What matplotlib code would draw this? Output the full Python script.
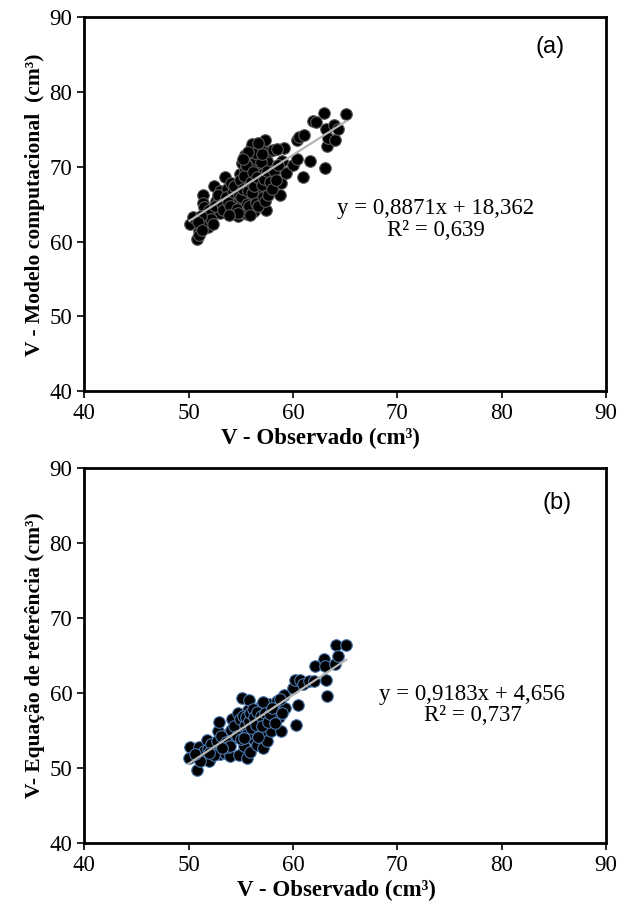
import matplotlib.pyplot as plt
import numpy as np

# %% data
# panel (a): observed vs computational model
obs_a = [50.1, 50.4, 50.8, 51.0, 51.2, 51.4, 51.4, 51.8, 51.9, 52.4, 52.6, 52.9,
         53.0, 53.0, 53.5, 53.7, 54.1, 54.2, 54.5, 54.7, 54.9, 55.1, 55.1, 55.1,
         55.2, 55.4, 55.4, 55.5, 55.6, 55.8, 55.9, 56.0, 56.1, 56.2, 56.3, 56.4,
         56.5, 56.6, 56.8, 56.9, 57.0, 57.2, 57.3, 57.4, 57.4, 57.5, 57.7, 57.8,
         57.9, 58.0, 58.1, 58.8, 58.9, 59.0, 59.1, 59.3, 60.0, 60.4, 60.4, 60.6,
         61.0, 61.1, 61.6, 61.9, 62.2, 63.0, 63.1, 63.2, 63.3, 63.4, 63.9, 64.0,
         64.3, 65.1,
         51.5, 51.7, 52.0, 52.2, 52.5, 52.8, 53.2, 53.3, 53.6, 53.8, 54.0, 54.3,
         54.4, 54.6, 54.8, 54.9, 55.0, 55.2, 55.3, 55.5, 55.6, 55.7, 55.8, 56.0,
         56.1, 56.2, 56.3, 56.5, 56.6, 56.7, 56.9, 57.0, 57.1, 57.2, 57.3, 57.5,
         57.6, 57.8, 58.0, 58.2, 58.4, 58.6, 55.9, 54.7, 53.9, 52.3, 51.2, 50.9,
         51.0, 51.3, 56.4, 55.7, 57.0, 56.7, 55.2, 58.5]
mod_a = [62.4, 63.3, 60.4, 61.4, 61.9, 66.3, 65.2, 63.6, 62.0, 67.4, 65.4, 65.9,
         63.9, 66.8, 68.6, 67.0, 67.9, 65.2, 65.9, 63.4, 69.0, 70.5, 67.4, 65.4,
         63.9, 71.6, 69.6, 66.5, 63.7, 68.5, 71.2, 72.5, 73.0, 65.9, 64.1, 69.9,
         71.0, 67.4, 66.3, 72.8, 69.0, 72.1, 73.6, 64.3, 67.9, 70.8, 67.2, 72.1,
         66.8, 68.1, 72.3, 66.2, 67.9, 70.8, 72.5, 69.2, 70.3, 71.0, 73.6, 74.0,
         68.6, 74.3, 70.8, 76.2, 76.0, 77.2, 69.9, 75.0, 72.8, 73.9, 75.6, 73.6,
         75.0, 77.1,
         64.6, 62.8, 64.3, 63.1, 64.8, 66.2, 65.0, 64.3, 66.0, 65.3, 64.8, 66.6,
         67.5, 64.4, 66.3, 68.2, 66.0, 67.0, 68.8, 70.2, 65.0, 66.8, 64.8, 68.0,
         66.5, 69.3, 67.5, 65.2, 68.6, 64.8, 70.6, 67.6, 66.0, 68.4, 65.4, 69.5,
         66.3, 68.0, 67.0, 69.4, 68.3, 70.2, 63.6, 63.9, 63.6, 62.4, 63.4, 62.6,
         60.9, 61.6, 71.8, 72.0, 71.7, 73.2, 71.0, 72.4]

# panel (b): observed vs reference equation
obs_b = [50.1, 50.0, 50.8, 51.0, 51.2, 51.8, 52.0, 52.6, 52.8, 52.9, 53.0, 53.3,
         53.5, 53.9, 54.0, 54.2, 54.3, 54.7, 54.8, 55.1, 55.2, 55.3, 55.6, 55.7,
         55.8, 55.9, 56.1, 56.4, 56.6, 56.8, 57.0, 57.1, 57.2, 57.4, 57.5, 57.7,
         57.9, 58.1, 58.5, 58.7, 58.9, 59.1, 59.2, 60.0, 60.2, 60.3, 60.5, 60.7,
         61.0, 61.5, 62.0, 62.1, 63.0, 63.1, 63.2, 63.3, 64.0, 64.1, 64.3, 65.1,
         51.5, 51.9, 52.2, 52.4, 52.7, 53.1, 53.6, 53.8, 54.1, 54.4, 54.6, 54.9,
         55.0, 55.2, 55.4, 55.5, 55.6, 55.8, 55.9, 56.0, 56.2, 56.3, 56.5, 56.6,
         56.9, 57.0, 57.1, 57.3, 57.6, 57.8, 58.0, 58.3, 56.7, 55.3, 54.0, 53.2,
         52.0, 51.1, 50.6, 58.8, 59.0]
ref_b = [52.8, 51.4, 49.7, 52.8, 51.8, 53.7, 50.9, 52.0, 55.0, 56.2, 51.9, 53.1,
         52.0, 54.7, 51.6, 56.6, 54.0, 57.3, 51.8, 59.3, 55.3, 52.9, 51.4, 57.8,
         59.1, 52.2, 54.0, 56.2, 53.1, 58.0, 58.5, 52.7, 54.4, 56.6, 53.6, 58.5,
         54.9, 57.6, 58.9, 56.8, 55.0, 59.8, 58.0, 60.7, 61.7, 55.7, 58.4, 61.7,
         61.2, 61.6, 61.6, 63.6, 64.6, 63.6, 61.8, 59.6, 63.9, 66.4, 64.9, 66.4,
         52.3, 52.6, 53.2, 51.7, 53.6, 54.3, 53.5, 52.8, 55.1, 55.6, 54.3, 56.5,
         53.9, 57.0, 55.8, 56.8, 54.6, 56.3, 57.4, 55.3, 57.9, 56.8, 55.7, 57.5,
         56.9, 55.6, 58.8, 57.4, 56.2, 57.2, 58.0, 56.0, 54.2, 54.0, 53.0, 52.7,
         52.0, 51.0, 51.9, 59.2, 57.4]

# fitted lines as printed on the chart
fit_a = (0.8871, 18.362, 0.639)
fit_b = (0.9183, 4.656, 0.737)

ticks = [40, 50, 60, 70, 80, 90]

plt.rcParams['font.family'] = ['Liberation Serif', 'DejaVu Serif']

fig = plt.figure(figsize=(6.28, 9.10), dpi=100)
ax_a = fig.add_axes([0.134, 0.570, 0.831, 0.411])
ax_b = fig.add_axes([0.134, 0.0736, 0.831, 0.412])


def draw_panel(ax, xs, ys, fit, edge, ylabel, tag, eq_xy, tag_xy, xlab_x):
    ax.scatter(xs, ys, s=70, c='black', edgecolors=edge, linewidths=0.8, zorder=2)
    slope, icpt, r2 = fit
    xl = np.array([min(xs), max(xs)])
    ax.plot(xl, slope * xl + icpt, color='#b4b4b4', lw=1.6, zorder=3)
    ax.set_xlim(40, 90)
    ax.set_ylim(40, 90)
    ax.set_xticks(ticks)
    ax.set_yticks(ticks)
    ax.tick_params(labelsize=16.5, length=5, width=1.2, direction='out')
    for sp in ax.spines.values():
        sp.set_linewidth(2)
    ax.set_xlabel('V - Observado (cm³)', fontsize=16.5, fontweight='bold')
    ax.xaxis.set_label_coords(xlab_x, -0.098)
    ax.set_ylabel(ylabel, fontsize=15.5, fontweight='bold', labelpad=3)
    eq = 'y = {}x + {}\nR² = {}'.format(str(slope).replace('.', ','),
                                        str(icpt).replace('.', ','),
                                        str(r2).replace('.', ','))
    ax.text(eq_xy[0], eq_xy[1], eq, fontsize=16.5, ha='center', va='center',
            linespacing=1.05)
    ax.text(tag_xy[0], tag_xy[1], tag, fontsize=17, ha='center', va='center',
            family=['Liberation Sans', 'DejaVu Sans'])


draw_panel(ax_a, obs_a, mod_a, fit_a, '#5a5a5a', 'V - Modelo computacional  (cm³)',
           '(a)', (73.7, 63.0), (84.6, 86.0), 0.452)
draw_panel(ax_b, obs_b, ref_b, fit_b, '#4a78b0', 'V- Equação de referência (cm³)',
           '(b)', (77.2, 58.4), (85.3, 85.4), 0.484)

fig.savefig('out.png', dpi=100)
